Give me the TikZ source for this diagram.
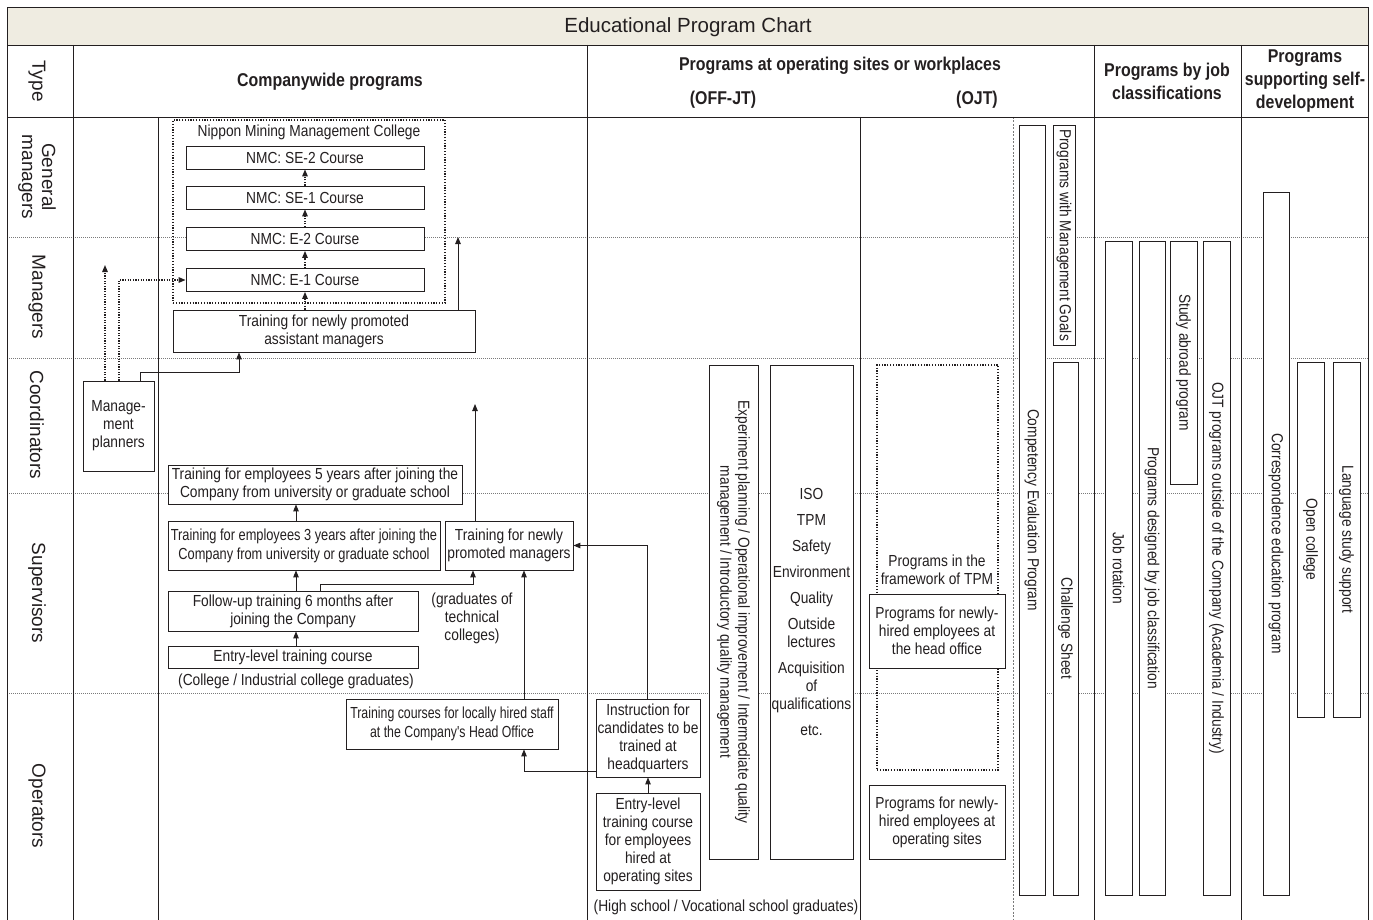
\documentclass[tikz,border=0pt]{standalone}
\usepackage{fontspec}
\setmainfont{Liberation Sans}[FakeStretch=0.86]
\newfontfamily\widefont{Liberation Sans}
\newfontfamily\narrowfont{Liberation Sans}[FakeStretch=0.80]
\newfontfamily\narrowerfont{Liberation Sans}[FakeStretch=0.77]
\usetikzlibrary{arrows.meta}
\definecolor{lc}{HTML}{231F20}
\definecolor{titlebg}{HTML}{EFECE1}
\definecolor{gridc}{HTML}{7A7A7A}
\newcommand{\bodyfs}{\fontsize{16}{18}\selectfont}
\newcommand{\headfs}{\bfseries\fontsize{18.5}{23}\selectfont}
\newcommand{\rowfs}{\widefont\fontsize{19}{20}\selectfont}
\newcommand{\titlefs}{\widefont\fontsize{20.5}{22}\selectfont}
\begin{document}
\begin{tikzpicture}[x=1pt,y=-1pt,
  box/.style={draw=lc, fill=white, line width=0.8pt, inner sep=0.5pt, align=center, font=\bodyfs, text=lc},
  bx/.style 2 args={box, minimum width=#1pt, minimum height=#2pt},
  vb/.style 2 args={box, rotate=-90, minimum width=#2pt, minimum height=#1pt},
  dotbox/.style 2 args={draw=lc, line width=1.4pt, dash pattern=on 1.2pt off 1.6pt, minimum width=#1pt, minimum height=#2pt, inner sep=0pt},
  lbl/.style={text=lc, font=\bodyfs, align=center, inner sep=0pt},
  head/.style={text=lc, font=\headfs, align=center, inner sep=0pt},
  rowlbl/.style={text=lc, font=\rowfs, align=center, inner sep=0pt, rotate=-90},
  arr/.style={draw=lc, line width=0.9pt, -{Triangle[length=7pt,width=5.5pt]}},
  darr/.style={arr, line width=1.3pt, dash pattern=on 1.2pt off 1.4pt},
  rowline/.style={draw=gridc, line width=0.7pt, dash pattern=on 1pt off 1pt},
  frame/.style={draw=lc, line width=0.9pt},
]
\useasboundingbox (0,0) rectangle (1373,920);

% title bar and frame
\fill[titlebg] (7,7) rectangle (1368,45);
\node[text=lc, font=\titlefs, inner sep=0pt] (title) at (688,27) {Educational Program Chart};

% row separators
\foreach \yy in {237,358,493,693} \draw[rowline] (7,\yy) -- (1368,\yy);
\draw[draw=gridc, line width=0.7pt, dash pattern=on 2pt off 1.5pt] (1013,117) -- (1013,920);

\draw[frame] (7,920) -- (7,7) -- (1368,7) -- (1368,920);
\draw[frame] (7,45) -- (1368,45);
\draw[frame] (7,117) -- (1368,117);
\foreach \xx in {73,587,1094,1241} \draw[frame] (\xx,45) -- (\xx,920);
\foreach \xx in {158,860} \draw[frame] (\xx,117) -- (\xx,920);

% headers
\node[rowlbl] (htype) at (37,81) {Type};
\node[head] (hcw) at (330,82) {Companywide programs};
\node[head] (hop) at (840,66) {Programs at operating sites or workplaces};
\node[head] (hoff) at (723,100) {(OFF-JT)};
\node[head] (hojt) at (977,100) {(OJT)};
\node[head] (hjob) at (1167,81) {Programs by job\\classifications};
\node[head] (hself) at (1305,81) {Programs\\supporting self-\\development};

% row labels
\node[rowlbl] (rgm) at (37,177) {General\\managers};
\node[rowlbl] (rm) at (37,297) {Managers};
\node[rowlbl] (rc) at (37,425) {Coordinators};
\node[rowlbl] (rs) at (37,593) {Supervisors};
\node[rowlbl] (ro) at (37,806) {Operators};

% Companywide programs
\node[dotbox={272}{183}] (nmc) at (309,211.5) {};
\node[lbl] (nmct) at (309,132) {Nippon Mining Management College};
\node[bx={238}{23}] (se2) at (305,157.5) {NMC: SE-2 Course};
\node[bx={238}{23}] (se1) at (305,197.5) {NMC: SE-1 Course};
\node[bx={238}{23}] (e2) at (305,239) {NMC: E-2 Course};
\node[bx={238}{23}] (e1) at (305,280) {NMC: E-1 Course};
\node[bx={302}{42}] (asst) at (324,331) {Training for newly promoted\\assistant managers};
\node[bx={71}{90}] (mp) at (118.5,426) {Manage-\\ment\\planners};

\node[bx={294}{39}] (y5) at (315,484.5) {Training for employees 5 years after joining the\\Company from university or graduate school};
\node[bx={272}{49}, font=\narrowfont\fontsize{16}{19}\selectfont] (y3) at (304,545.5) {Training for employees 3 years after joining the\\Company from university or graduate school};
\node[bx={128}{49}] (npm) at (509,545.5) {Training for newly\\promoted managers};
\node[bx={250}{40}] (fu) at (293,611) {Follow-up training 6 months after\\joining the Company};
\node[bx={250}{22}] (entry) at (293,657) {Entry-level training course};
\node[lbl] (colg) at (296,681) {(College / Industrial college graduates)};
\node[lbl] (tech) at (472,618) {(graduates of\\technical\\colleges)};
\node[bx={212}{50}, font=\narrowerfont\fontsize{16}{19}\selectfont] (local) at (452,724) {Training courses for locally hired staff\\at the Company's Head Office};
\node[bx={104}{78}] (instr) at (648,738) {Instruction for\\candidates to be\\trained at\\headquarters};
\node[bx={104}{97}] (entryop) at (648,841.5) {Entry-level\\training course\\for employees\\hired at\\operating sites};
\node[lbl] (hsg) at (726,907) {(High school / Vocational school graduates)};

% OFF-JT
\node[vb={49}{494}] (exp) at (733.5,612) {Experiment planning / Operational improvement / Intermediate quality\\management / Introductory quality management};
\node[bx={83}{494}] (iso) at (811.5,612) {ISO\\[8pt]TPM\\[8pt]Safety\\[8pt]Environment\\[8pt]Quality\\[8pt]Outside\\lectures\\[8pt]Acquisition\\of\\qualifications\\[8pt]etc.};

% OJT
\node[dotbox={121}{405}] (tpm) at (937.5,567.5) {};
\node[lbl] (tpmt) at (937,570) {Programs in the\\framework of TPM};
\node[bx={136}{74}] (ho) at (937,631) {Programs for newly-\\hired employees at\\the head office};
\node[bx={136}{74}] (os) at (937,822) {Programs for newly-\\hired employees at\\operating sites};
\node[vb={26}{770}] (comp) at (1032,510) {Competency Evaluation Program};
\node[vb={22}{220}] (mgoal) at (1064,235) {Programs with Management Goals};
\node[vb={25}{533}] (chal) at (1065.5,628.5) {Challenge Sheet};

% Programs by job classifications
\node[vb={27}{654}] (jr) at (1118.5,568) {Job rotation};
\node[vb={26}{654}] (pd) at (1152,568) {Programs designed by job classification};
\node[vb={27}{243}] (sa) at (1183.5,362.5) {Study abroad program};
\node[vb={27}{654}] (ojto) at (1216.5,568) {OJT programs outside of the Company (Academia / Industry)};

% Self-development
\node[vb={26}{703}] (corr) at (1276,543.5) {Correspondence education program};
\node[vb={27}{355}] (oc) at (1310.5,539.5) {Open college};
\node[vb={27}{355}] (ls) at (1346.5,539.5) {Language study support};

% connectors: NMC chain
\draw[darr] (asst.north -| e1.south) -- (e1.south);
\draw[darr] (e1.north) -- (e2.south);
\draw[darr] (e2.north) -- (se1.south);
\draw[darr] (se1.north) -- (se2.south);
\coordinate (asstup) at (458,237);
\draw[arr] (asst.north -| asstup) -- (asstup);

% management planners
\coordinate (mpup) at (105,265);
\coordinate (k1) at (119,280);
\coordinate (k2) at (140,372);
\coordinate (k3) at (239,372);
\draw[darr] (mp.north -| mpup) -- (mpup);
\draw[darr] (mp.north -| k1) -- (k1) -- (e1.west);
\draw[arr] (mp.north -| k2) -- (k2) -- (k3) -- (asst.south -| k3);

% supervisors chain
\coordinate (k4) at (296,0);
\draw[arr] (entry.north -| k4) -- (fu.south -| k4);
\draw[arr] (fu.north -| k4) -- (y3.south -| k4);
\draw[arr] (y3.north -| k4) -- (y5.south -| k4);
\coordinate (k5) at (320,584);
\coordinate (k6) at (473,584);
\draw[arr] (fu.north -| k5) -- (k5) -- (k6) -- (npm.south -| k6);
\coordinate (k7) at (475,404);
\draw[arr] (npm.north -| k7) -- (k7);
\coordinate (k8) at (524,0);
\draw[arr] (local.north -| k8) -- (npm.south -| k8);
\coordinate (k9) at (647,545.5);
\draw[arr] (instr.north -| k9) -- (k9) -- (npm.east);
\coordinate (k10) at (524,771);
\draw[arr] (instr.west |- k10) -- (k10) -- (local.south -| k10);
\draw[arr] (entryop.north) -- (instr.south);
\end{tikzpicture}
\end{document}
